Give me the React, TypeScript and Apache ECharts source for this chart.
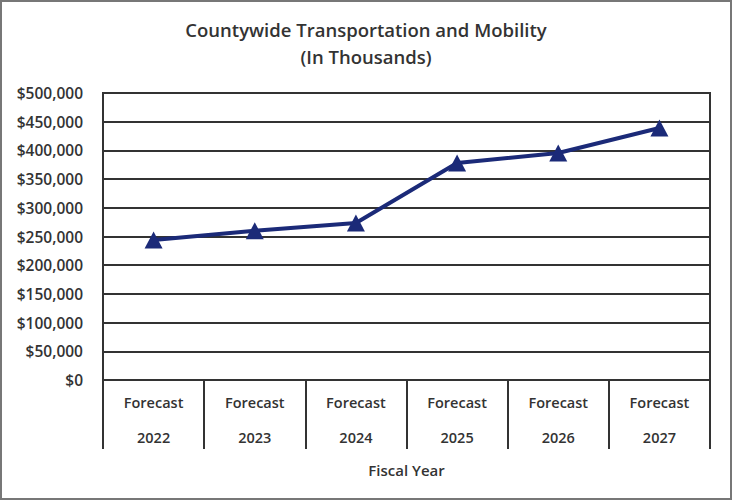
import React, { useEffect, useRef } from "react";
import * as echarts from "echarts";

const categories = ["2022", "2023", "2024", "2025", "2026", "2027"];
const categoryPrefix = "Forecast";
const values = [244000, 260000, 273500, 378000, 395500, 439000];
const yTicks = { min: 0, max: 500000, interval: 50000 };
const titleText = "Countywide Transportation and Mobility";
const subtitleText = "(In Thousands)";
const xAxisName = "Fiscal Year";

const FONT = "'Open Sans', 'Noto Sans', sans-serif";
const TEXT = "#333333";
const GRID = "#333333";
const LINE = "#1b2a78";

export default function App() {
  const ref = useRef<HTMLDivElement>(null);
  useEffect(() => {
    if (!ref.current) return;
    const chart = echarts.init(ref.current, undefined, { renderer: "svg" });
    chart.setOption({
      animation: false,
      backgroundColor: "#ffffff",
      title: {
        text: titleText + "\n" + subtitleText,
        left: "center",
        top: 11,
        textStyle: {
          fontFamily: FONT,
          fontSize: 18.5,
          fontWeight: 600,
          color: TEXT,
          lineHeight: 27,
        },
      },
      graphic: [
        {
          type: "rect",
          shape: { x: 1, y: 1, width: 730, height: 498 },
          style: { fill: "none", stroke: "#777777", lineWidth: 2 },
          silent: true,
        },
      ],
      grid: {
        left: 103,
        right: 22,
        top: 93,
        bottom: 120,
        show: true,
        borderColor: GRID,
        borderWidth: 2,
        containLabel: false,
      },
      xAxis: {
        type: "category",
        data: categories.map((c) => categoryPrefix + "\n" + c),
        boundaryGap: true,
        axisLine: { show: true, lineStyle: { color: GRID, width: 2 } },
        axisTick: {
          show: true,
          alignWithLabel: false,
          length: 69,
          lineStyle: { color: GRID, width: 2 },
        },
        axisLabel: {
          interval: 0,
          margin: 5,
          fontFamily: FONT,
          fontSize: 14.5,
          fontWeight: 600,
          color: TEXT,
          lineHeight: 35,
        },
        name: xAxisName,
        nameLocation: "middle",
        nameGap: 82,
        nameTextStyle: {
          fontFamily: FONT,
          fontSize: 15,
          fontWeight: 600,
          color: TEXT,
        },
      },
      yAxis: {
        type: "value",
        min: yTicks.min,
        max: yTicks.max,
        interval: yTicks.interval,
        axisLine: { show: true, lineStyle: { color: GRID, width: 2 } },
        axisTick: { show: false },
        splitLine: { show: true, lineStyle: { color: GRID, width: 2 } },
        axisLabel: {
          margin: 20,
          fontFamily: FONT,
          fontSize: 15.5,
          fontWeight: 600,
          color: TEXT,
          formatter: (v: number) => "$" + v.toLocaleString("en-US"),
        },
      },
      series: [
        {
          type: "line",
          data: values,
          symbol: "triangle",
          symbolSize: [18, 17],
          lineStyle: { color: LINE, width: 4 },
          itemStyle: { color: LINE },
        },
      ],
    });
    return () => chart.dispose();
  }, []);
  return (
    <div
      ref={ref}
      style={{ position: "fixed", left: 0, top: 0, width: 732, height: 500 }}
    />
  );
}
